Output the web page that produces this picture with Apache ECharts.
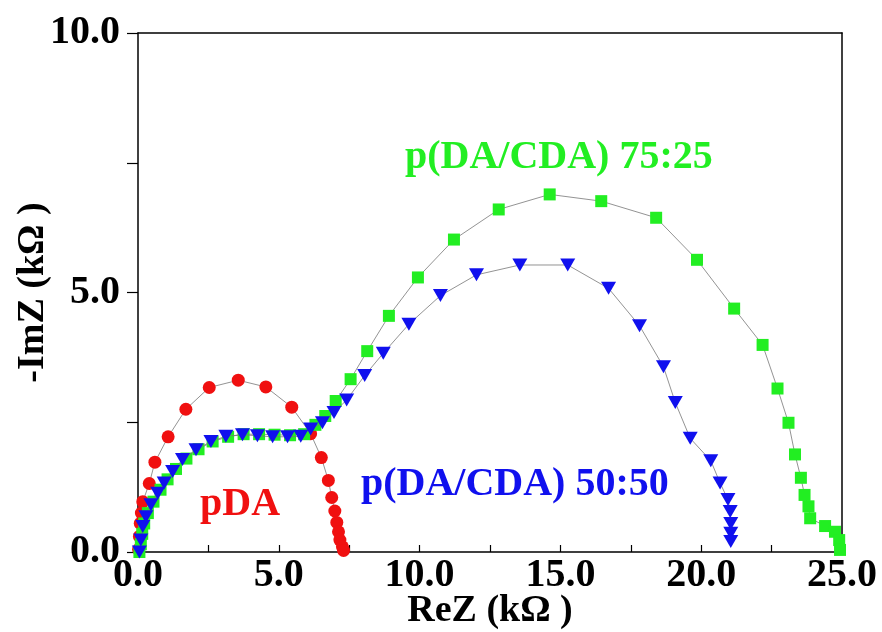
<!DOCTYPE html>
<html>
<head>
<meta charset="utf-8">
<script src="https://cdn.jsdelivr.net/npm/echarts@6/dist/echarts.min.js"></script>
<style>html,body{margin:0;padding:0;background:#fff}#c{width:882px;height:632px}</style>
</head>
<body>
<div id="c"></div>
<script>
// ---- data (kΩ) ----
const pdaRe = [0.02,0.05,0.08,0.12,0.17,0.40,0.60,1.07,1.70,2.53,3.56,4.54,5.46,6.13,6.51,6.76,6.88,6.99,7.06,7.12,7.17,7.26,7.30];
const pdaIm = [0.05,0.30,0.55,0.75,0.97,1.32,1.73,2.22,2.75,3.17,3.31,3.18,2.79,2.28,1.82,1.38,1.05,0.79,0.57,0.39,0.23,0.10,0.03];

const g7525Re = [0.05,0.10,0.15,0.22,0.35,0.55,0.80,1.05,1.35,1.72,2.15,2.65,3.20,3.75,4.30,4.85,5.40,5.90,6.30,6.65,7.02,7.55,8.14,8.91,9.94,11.22,12.81,14.62,16.45,18.40,19.85,21.17,22.18,22.71,23.10,23.33,23.54,23.67,23.81,23.87,24.40,24.75,24.90,24.93];
const g7525Im = [0.00,0.15,0.35,0.55,0.75,0.97,1.20,1.40,1.60,1.80,1.98,2.13,2.22,2.27,2.27,2.26,2.25,2.27,2.45,2.62,2.91,3.33,3.87,4.55,5.29,6.02,6.60,6.89,6.76,6.44,5.63,4.69,3.99,3.15,2.49,1.88,1.43,1.10,0.88,0.65,0.50,0.39,0.23,0.04];

const b5050Re = [0.05,0.10,0.17,0.28,0.46,0.70,0.93,1.23,1.58,2.06,2.59,3.12,3.71,4.24,4.78,5.31,5.78,6.13,6.55,6.96,7.41,8.05,8.71,9.62,10.74,12.02,13.56,15.26,16.71,17.81,18.66,19.08,19.61,20.34,20.67,20.95,21.03,21.05,21.05,21.05];
const b5050Im = [0.00,0.23,0.49,0.68,0.91,1.13,1.33,1.55,1.78,1.97,2.13,2.23,2.26,2.24,2.22,2.22,2.23,2.37,2.49,2.69,2.93,3.40,3.83,4.39,4.94,5.34,5.53,5.53,5.08,4.36,3.57,2.88,2.19,1.76,1.33,1.01,0.78,0.55,0.36,0.20];

const seriesNames = ['pDA', 'p(DA/CDA) 75:25', 'p(DA/CDA) 50:50'];
const xTickLabels = ['0.0','5.0','10.0','15.0','20.0','25.0'];
const yTickLabels = ['0.0','5.0','10.0'];
const xTitle = 'ReZ (kΩ )';
const yTitle = '-ImZ (kΩ )';

function pairs(a, b) { return a.map((v, i) => [v, b[i]]); }

const FONT = '"Liberation Serif", "Times New Roman", serif';
const RED = '#f01010', GREEN = '#22ee22', BLUE = '#1010ee';

const chart = echarts.init(document.getElementById('c'));

chart.setOption({
  animation: false,
  backgroundColor: '#fff',
  grid: { left: 138, right: 40, top: 33, bottom: 80, containLabel: false, outerBoundsMode: 'none' },
  xAxis: [{
    type: 'value', min: 0, max: 25, interval: 2.5,
    axisLine: { lineStyle: { color: '#000', width: 1.5 } },
    axisTick: { inside: true, length: 7, lineStyle: { color: '#000', width: 1.2 } },
    splitLine: { show: false },
    axisLabel: {
      margin: 4, color: '#000', fontFamily: FONT, fontWeight: 'bold', fontSize: 40,
      formatter: v => { const i = xTickLabels.indexOf(v.toFixed(1)); return (v % 5 === 0 && i >= 0) ? xTickLabels[i] : ''; }
    },
    name: xTitle, nameLocation: 'middle', nameGap: 40, nameMoveOverlap: false,
    nameTextStyle: { color: '#000', fontFamily: FONT, fontWeight: 'bold', fontSize: 38 }
  }, {
    type: 'value', position: 'top', min: 0, max: 25,
    axisLine: { show: true, onZero: false, lineStyle: { color: '#000', width: 1.5 } },
    axisTick: { show: false }, axisLabel: { show: false }, splitLine: { show: false }
  }],
  yAxis: [{
    type: 'value', min: 0, max: 10, interval: 2.5,
    axisLine: { show: true, lineStyle: { color: '#000', width: 1.5 } },
    axisTick: { show: true, inside: false, length: 11, lineStyle: { color: '#000', width: 1.2 } },
    splitLine: { show: false },
    axisLabel: {
      margin: 18, color: '#000', fontFamily: FONT, fontWeight: 'bold', fontSize: 40,
      formatter: v => { const i = yTickLabels.indexOf(v.toFixed(1)); return (v % 5 === 0 && i >= 0) ? yTickLabels[i] : ''; }
    },
    name: yTitle, nameLocation: 'middle', nameGap: 86, nameMoveOverlap: false,
    nameTextStyle: { color: '#000', fontFamily: FONT, fontWeight: 'bold', fontSize: 38 }
  }, {
    type: 'value', position: 'right', min: 0, max: 10,
    axisLine: { show: true, onZero: false, lineStyle: { color: '#000', width: 1.5 } },
    axisTick: { show: false }, axisLabel: { show: false }, splitLine: { show: false }
  }],
  series: [{
    name: seriesNames[0], type: 'line', data: pairs(pdaRe, pdaIm),
    symbol: 'circle', symbolSize: 13,
    itemStyle: { color: RED }, lineStyle: { color: '#777', width: 0.8 }, z: 2
  }, {
    name: seriesNames[1], type: 'line', data: pairs(g7525Re, g7525Im),
    symbol: 'rect', symbolSize: 12,
    itemStyle: { color: GREEN }, lineStyle: { color: '#777', width: 0.8 }, z: 3
  }, {
    name: seriesNames[2], type: 'line', data: pairs(b5050Re, b5050Im),
    symbol: 'triangle', symbolRotate: 180, symbolSize: [15, 13],
    itemStyle: { color: BLUE }, lineStyle: { color: '#777', width: 0.8 }, z: 4
  }],
  graphic: [
    { type: 'text', left: 200, top: 485, style: { text: seriesNames[0], fill: RED, font: 'bold 40px ' + FONT } },
    { type: 'text', left: 405, top: 138, style: { text: seriesNames[1], fill: GREEN, font: 'bold 40px ' + FONT } },
    { type: 'text', left: 361, top: 465, style: { text: seriesNames[2], fill: BLUE, font: 'bold 40px ' + FONT } }
  ]
});
</script>
</body>
</html>
